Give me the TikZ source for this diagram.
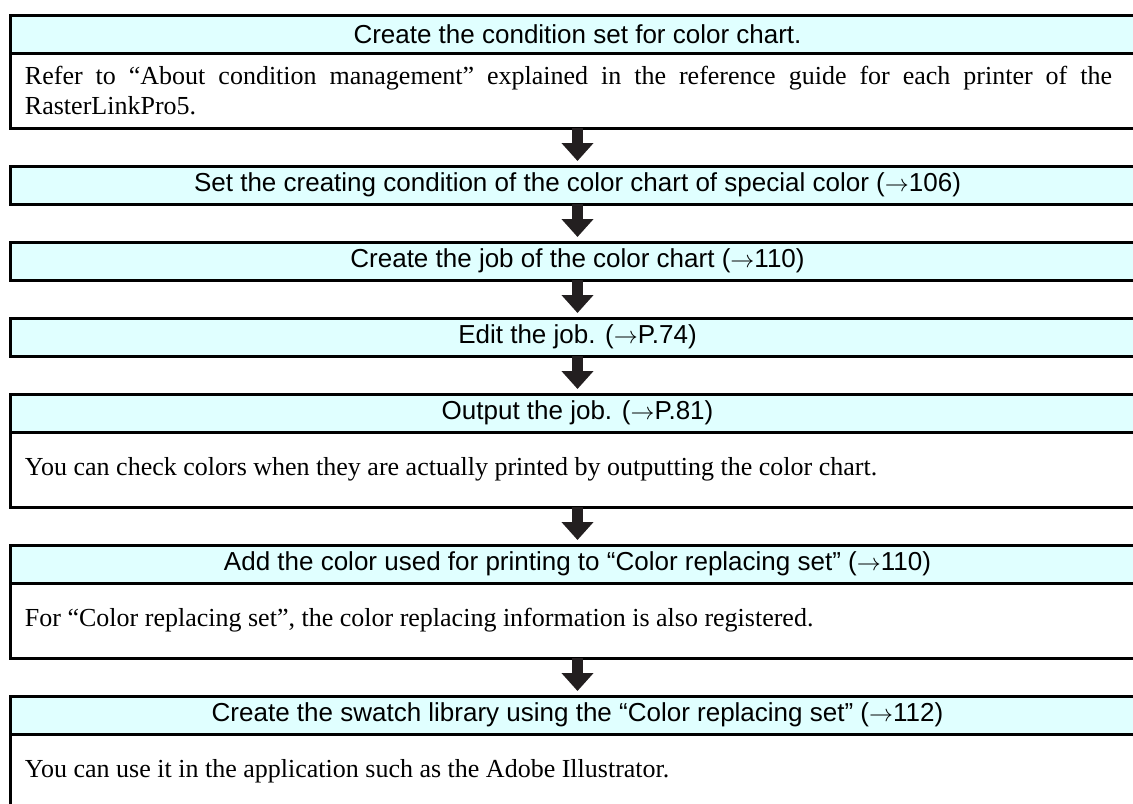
\documentclass[tikz,border=0pt]{standalone}
\usepackage{fontspec}
\setmainfont{Liberation Serif}
\setsansfont{Liberation Sans}
\usepackage{xcolor}
\usepackage{tikz}
\usetikzlibrary{arrows.meta,positioning}

\definecolor{headcyan}{HTML}{E0FFFF}
\definecolor{arrowdark}{HTML}{231F20}

\begin{document}
\begin{tikzpicture}[
  node distance=19pt,
  head/.style={rectangle, draw, line width=1.5pt, fill=headcyan, outer sep=0pt,
               minimum width=567.5pt, minimum height=19pt, inner sep=0pt,
               font=\sffamily\fontsize{13}{15}\selectfont},
  body/.style={rectangle, anchor=north west, outer sep=0pt, inner xsep=7.5pt,
               text width=543.5pt, minimum height=37.5pt, align=justify,
               font=\rmfamily\fontsize{13}{15}\selectfont},
  frame/.style={line width=1.5pt},
  flow/.style={line width=5.5pt, arrowdark, shorten >=2.5pt,
               -{Triangle[width=15.5pt, length=9pt]}},
]
  \useasboundingbox (0,0) rectangle (566.5pt,-401.5pt);

  % Step 1: condition set (with note)
  \node[head, anchor=north] (cond) at (288.75pt,-7.5pt) {Create the condition set for color chart.};
  \node[body] (condtxt) at (cond.south west)
    {Refer to “About condition management” explained in the reference guide for each printer of the\linebreak RasterLinkPro5.};
  \draw[frame] (cond.south west) |- (condtxt.south -| cond.east);

  % Steps 2-4: single-line steps
  \node[head, below=56.5pt of cond] (chartcond) {Set the creating condition of the color chart of special color ($\rightarrow$106)};
  \node[head, below=of chartcond] (chartjob) {Create the job of the color chart ($\rightarrow$110)};
  \node[head, below=of chartjob] (editjob) {Edit the job. ($\rightarrow$P.74)};

  % Step 5: output (with note)
  \node[head, below=of editjob] (outjob) {Output the job. ($\rightarrow$P.81)};
  \node[body] (outtxt) at (outjob.south west)
    {You can check colors when they are actually printed by outputting the color chart.};
  \draw[frame] (outjob.south west) |- (outtxt.south -| outjob.east);

  % Step 6: replacing set (with note)
  \node[head, below=56.5pt of outjob] (addcolor) {Add the color used for printing to “Color replacing set” ($\rightarrow$110)};
  \node[body] (addtxt) at (addcolor.south west)
    {For “Color replacing set”, the color replacing information is also registered.};
  \draw[frame] (addcolor.south west) |- (addtxt.south -| addcolor.east);

  % Step 7: swatch library (with note)
  \node[head, below=56.5pt of addcolor] (swatch) {Create the swatch library using the “Color replacing set” ($\rightarrow$112)};
  \node[body] (swatchtxt) at (swatch.south west)
    {You can use it in the application such as the Adobe Illustrator.};
  \draw[frame] (swatch.south west) |- (swatchtxt.south -| swatch.east);

  % Flow arrows
  \draw[flow] (condtxt.south -| chartcond.north) -- (chartcond.north);
  \draw[flow] (chartcond.south) -- (chartjob.north);
  \draw[flow] (chartjob.south) -- (editjob.north);
  \draw[flow] (editjob.south) -- (outjob.north);
  \draw[flow] (outtxt.south -| addcolor.north) -- (addcolor.north);
  \draw[flow] (addtxt.south -| swatch.north) -- (swatch.north);
\end{tikzpicture}
\end{document}
